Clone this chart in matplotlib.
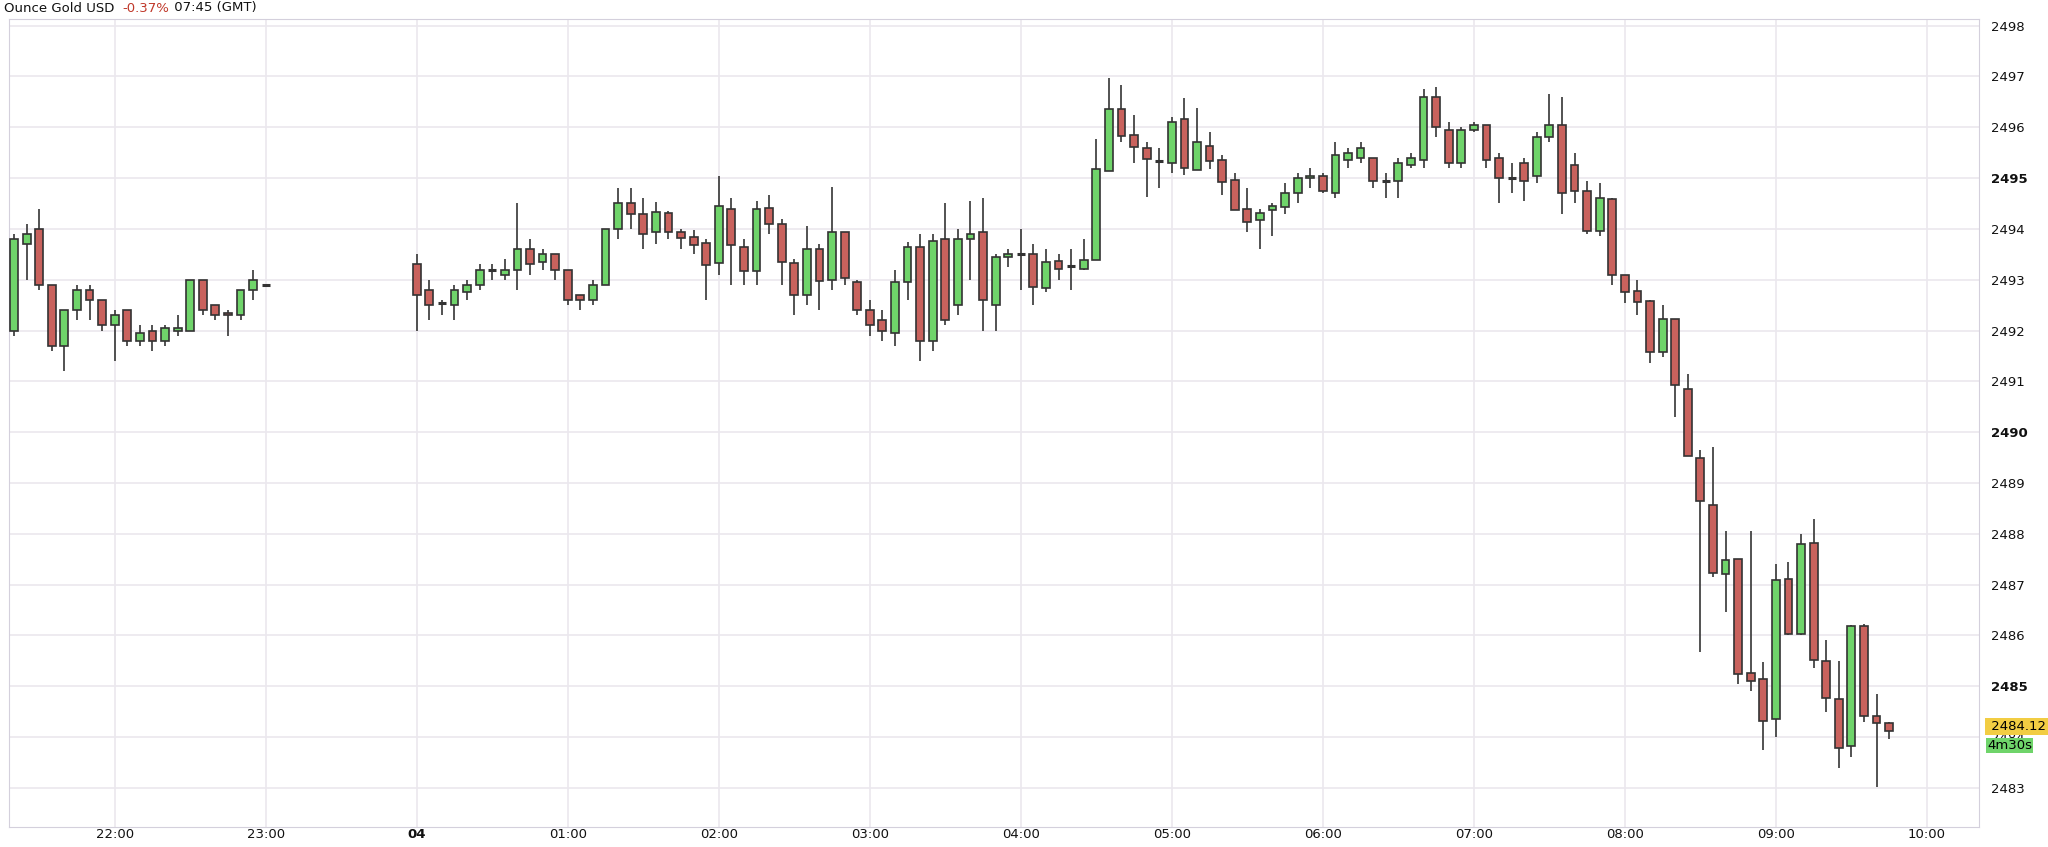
import matplotlib
matplotlib.use("Agg")
import matplotlib.pyplot as plt
import numpy as np

# 5-minute candles, times in hours (24 = 00:00 next day)
t_evening = [21 + 20/60 + i*5/60 for i in range(21)]
o_evening = [2492.0, 2493.7, 2494.0, 2492.9, 2491.7, 2492.4, 2492.8, 2492.6, 2492.1, 2492.4, 2491.8,
             2492.0, 2491.8, 2492.0, 2492.0, 2493.0, 2492.5, 2492.35, 2492.3, 2492.8, 2492.9]
h_evening = [2493.9, 2494.1, 2494.4, 2492.9, 2492.4, 2492.9, 2492.9, 2492.6, 2492.4, 2492.4, 2492.1,
             2492.1, 2492.1, 2492.3, 2493.0, 2493.0, 2492.5, 2492.4, 2492.8, 2493.2, 2492.9]
l_evening = [2491.9, 2493.0, 2492.8, 2491.6, 2491.2, 2492.2, 2492.2, 2492.0, 2491.4, 2491.7, 2491.7,
             2491.6, 2491.7, 2491.9, 2492.0, 2492.3, 2492.2, 2491.9, 2492.2, 2492.6, 2492.9]
c_evening = [2493.8, 2493.9, 2492.9, 2491.7, 2492.4, 2492.8, 2492.6, 2492.1, 2492.3, 2491.8, 2491.95,
             2491.8, 2492.05, 2492.05, 2493.0, 2492.4, 2492.3, 2492.3, 2492.8, 2493.0, 2492.9]

t_day = [24 + i*5/60 for i in range(118)]
o_day = [2493.3, 2492.8, 2492.55, 2492.5, 2492.75, 2492.9, 2493.2, 2493.1, 2493.2, 2493.6, 2493.35,
         2493.5, 2493.2, 2492.7, 2492.6, 2492.9, 2494.0, 2494.5, 2494.3, 2493.94, 2494.32,
         2493.93, 2493.84, 2493.72, 2493.32, 2494.39, 2493.65, 2493.18, 2494.42, 2494.09, 2493.33,
         2492.7, 2493.6, 2493.0, 2493.94, 2492.95, 2492.4, 2492.2, 2491.95, 2492.95, 2493.64,
         2491.8, 2493.81, 2492.5, 2493.8, 2493.93, 2492.5, 2493.44, 2493.5, 2493.5, 2492.84,
         2493.36, 2493.27, 2493.22, 2493.39, 2495.14, 2496.36, 2495.85, 2495.6, 2495.33, 2495.3,
         2496.16, 2495.16, 2495.64, 2495.36, 2494.96, 2494.4, 2494.17, 2494.37, 2494.43, 2494.7,
         2495.0, 2495.05, 2494.7, 2495.35, 2495.4, 2495.4, 2494.95, 2494.95, 2495.25, 2495.35,
         2496.6, 2495.95, 2495.3, 2495.95, 2496.05, 2495.4, 2495.0, 2495.3, 2495.05, 2495.8,
         2496.05, 2495.25, 2494.75, 2493.95, 2494.58, 2493.1, 2492.77, 2492.58, 2491.57, 2492.22,
         2490.85, 2489.5, 2488.57, 2487.2, 2487.5, 2485.27, 2485.14, 2484.35, 2487.11, 2486.03,
         2487.81, 2485.49, 2484.74, 2483.82, 2486.19, 2484.41, 2484.27]
h_day = [2493.5, 2493.0, 2492.6, 2492.9, 2493.0, 2493.3, 2493.3, 2493.4, 2494.5, 2493.8, 2493.6,
         2493.5, 2493.2, 2492.7, 2493.0, 2494.0, 2494.8, 2494.8, 2494.6, 2494.53, 2494.35,
         2494.0, 2493.98, 2493.8, 2495.05, 2494.6, 2493.8, 2494.55, 2494.67, 2494.2, 2493.4,
         2494.06, 2493.7, 2494.83, 2493.94, 2493.0, 2492.6, 2492.4, 2493.2, 2493.75, 2493.9,
         2493.9, 2494.5, 2494.0, 2494.55, 2494.6, 2493.5, 2493.6, 2494.0, 2493.7, 2493.6,
         2493.5, 2493.6, 2493.8, 2495.76, 2496.96, 2496.83, 2496.24, 2495.7, 2495.6, 2496.2,
         2496.57, 2496.38, 2495.9, 2495.45, 2495.1, 2494.8, 2494.4, 2494.5, 2494.9, 2495.1,
         2495.2, 2495.1, 2495.7, 2495.6, 2495.7, 2495.4, 2495.1, 2495.4, 2495.5, 2496.75,
         2496.8, 2496.1, 2496.0, 2496.1, 2496.05, 2495.5, 2495.3, 2495.4, 2495.9, 2496.65,
         2496.6, 2495.5, 2494.95, 2494.9, 2494.6, 2493.1, 2493.0, 2492.6, 2492.5, 2492.22,
         2491.15, 2489.65, 2489.7, 2488.05, 2487.5, 2488.05, 2485.47, 2487.4, 2487.45, 2488.0,
         2488.3, 2485.9, 2485.5, 2486.2, 2486.22, 2484.85, 2484.3]
l_day = [2492.0, 2492.2, 2492.3, 2492.2, 2492.6, 2492.8, 2493.0, 2493.0, 2492.8, 2493.1, 2493.2,
         2493.0, 2492.5, 2492.4, 2492.5, 2492.9, 2493.8, 2494.0, 2493.6, 2493.71, 2493.8,
         2493.6, 2493.5, 2492.6, 2493.1, 2492.9, 2492.9, 2492.9, 2493.9, 2492.9, 2492.3,
         2492.5, 2492.4, 2492.8, 2492.9, 2492.3, 2491.9, 2491.8, 2491.7, 2492.6, 2491.4,
         2491.6, 2492.1, 2492.3, 2493.0, 2492.0, 2492.0, 2493.25, 2492.8, 2492.5, 2492.75,
         2493.0, 2492.8, 2493.2, 2493.39, 2495.14, 2495.7, 2495.3, 2494.62, 2494.8, 2495.1,
         2495.07, 2495.16, 2495.18, 2494.67, 2494.37, 2493.94, 2493.6, 2493.86, 2494.3, 2494.5,
         2494.8, 2494.7, 2494.6, 2495.2, 2495.3, 2494.8, 2494.6, 2494.6, 2495.2, 2495.2,
         2495.8, 2495.2, 2495.2, 2495.9, 2495.2, 2494.5, 2494.7, 2494.55, 2494.9, 2495.7,
         2494.3, 2494.5, 2493.9, 2493.85, 2492.9, 2492.55, 2492.3, 2491.37, 2491.47, 2490.3,
         2489.53, 2485.68, 2487.15, 2486.47, 2485.05, 2484.9, 2483.75, 2484.0, 2486.0, 2486.0,
         2485.35, 2484.5, 2483.4, 2483.6, 2484.3, 2483.02, 2483.96]
c_day = [2492.7, 2492.5, 2492.55, 2492.8, 2492.9, 2493.2, 2493.2, 2493.2, 2493.6, 2493.3, 2493.5,
         2493.2, 2492.6, 2492.6, 2492.9, 2494.0, 2494.5, 2494.3, 2493.9, 2494.34, 2493.93,
         2493.83, 2493.68, 2493.28, 2494.45, 2493.68, 2493.17, 2494.4, 2494.09, 2493.35, 2492.7,
         2493.6, 2492.97, 2493.94, 2493.03, 2492.4, 2492.1, 2492.0, 2492.95, 2493.64, 2491.8,
         2493.77, 2492.2, 2493.81, 2493.9, 2492.6, 2493.44, 2493.5, 2493.5, 2492.85, 2493.35,
         2493.22, 2493.27, 2493.38, 2495.18, 2496.36, 2495.83, 2495.62, 2495.37, 2495.33, 2496.11,
         2495.2, 2495.7, 2495.34, 2494.93, 2494.37, 2494.14, 2494.32, 2494.45, 2494.7, 2495.0,
         2495.05, 2494.75, 2495.45, 2495.5, 2495.6, 2494.95, 2494.95, 2495.3, 2495.4, 2496.6,
         2496.0, 2495.3, 2495.95, 2496.05, 2495.35, 2495.0, 2495.0, 2494.95, 2495.8, 2496.05,
         2494.7, 2494.75, 2493.95, 2494.6, 2493.1, 2492.76, 2492.56, 2491.57, 2492.22, 2490.93,
         2489.53, 2488.64, 2487.23, 2487.48, 2485.24, 2485.1, 2484.32, 2487.1, 2486.03, 2487.79,
         2485.52, 2484.76, 2483.79, 2486.19, 2484.41, 2484.27, 2484.12]

times = t_evening + t_day
opens = o_evening + o_day
highs = h_evening + h_day
lows = l_evening + l_day
closes = c_evening + c_day

last_price = "2484.12"
countdown = "4m30s"
x_ticks = [22, 23, 24, 25, 26, 27, 28, 29, 30, 31, 32, 33, 34]
x_labels = ["22:00", "23:00", "04", "01:00", "02:00", "03:00", "04:00", "05:00",
            "06:00", "07:00", "08:00", "09:00", "10:00"]
y_ticks = list(range(2483, 2499))
y_lo, y_hi = 2482.23, 2498.13

fig = plt.figure(figsize=(20.48, 8.47), dpi=100)
ax = fig.add_axes([9/2048, 20/847, 1970/2048, 808/847])

green = "#6fd46a"
red = "#c9625d"
edge = "#333333"
w = 5/60 * 0.62
for t, o, h, l, c in zip(times, opens, highs, lows, closes):
    ax.vlines(t, l, h, color="#444444", lw=1.3, zorder=2)
    col = green if c >= o else red
    body = abs(c - o)
    if body < 0.04:
        ax.hlines((o + c) / 2, t - w/2, t + w/2, color=edge, lw=2.2, zorder=3)
    else:
        ax.bar(t, body, bottom=min(o, c), width=w, color=col, edgecolor=edge, lw=1.2, zorder=3)

ax.set_xlim(21.30, 34.345)
ax.set_ylim(y_lo, y_hi)
ax.set_xticks(x_ticks)
ax.set_xticklabels(x_labels)
ax.set_yticks(y_ticks)
ax.set_yticklabels([str(v) for v in y_ticks])
ax.yaxis.tick_right()
ax.tick_params(length=0, labelsize=9.5, colors="#111111")
ax.tick_params(axis="y", pad=9)
ax.tick_params(axis="x", pad=1)
for lab in ax.get_yticklabels():
    if lab.get_text() in ("2485", "2490", "2495"):
        lab.set_fontweight("bold")
for lab in ax.get_xticklabels():
    if lab.get_text() == "04":
        lab.set_fontweight("bold")
ax.grid(True, color="#ebe8ee", lw=1.2, zorder=0)
for s in ax.spines.values():
    s.set_color("#d4d0dc")

# last price markers
yf = (float(last_price) - y_lo) / (y_hi - y_lo)
ax.text(1.004, yf + 0.006, " " + last_price, transform=ax.transAxes, ha="left", va="center",
        fontsize=9.5, bbox=dict(boxstyle="square,pad=0.15", fc="#f2cd43", ec="none"))
ax.text(1.004, yf - 0.018, countdown, transform=ax.transAxes, ha="left", va="center",
        fontsize=9.5, bbox=dict(boxstyle="square,pad=0.1", fc="#6fd46a", ec="none"))

# title pieces, placed one after another
parts = [("Ounce Gold USD ", "#111111"), ("-0.37%", "#c0392b"), (" 07:45 (GMT)", "#111111")]
fig.canvas.draw()
r = fig.canvas.get_renderer()
x = 4
for s, col in parts:
    tx = fig.text(x/2048, 1 - 8/847, s, fontsize=9.5, va="center", ha="left", color=col)
    x += tx.get_window_extent(renderer=r).width + (4 if s.endswith(" ") or s.startswith(" ") else 0)

fig.savefig("out.png", dpi=100, facecolor="white")
